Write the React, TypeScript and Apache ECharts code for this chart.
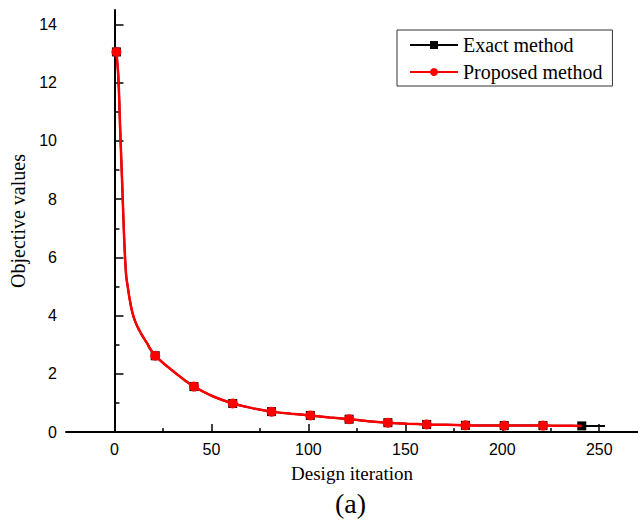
import React, { useEffect, useRef } from "react";
import * as echarts from "echarts";

const proposedIter = [1, 2, 3, 4, 5, 6, 7, 8, 9, 10, 11, 12, 13, 14, 15, 16, 17, 18, 19, 20, 21, 26, 31, 36, 41, 46, 51, 56, 61, 71, 81, 91, 101, 111, 121, 131, 141, 151, 161, 171, 181, 191, 201, 211, 221, 231, 241];
const proposedValues = [13.06, 12.2, 10.3, 8.5, 6.65, 5.4, 4.92, 4.5, 4.17, 3.93, 3.75, 3.6, 3.47, 3.35, 3.24, 3.13, 3.03, 2.9, 2.8, 2.71, 2.62, 2.32, 2.05, 1.79, 1.56, 1.38, 1.22, 1.09, 0.98, 0.82, 0.7, 0.63, 0.57, 0.5, 0.44, 0.37, 0.32, 0.285, 0.26, 0.245, 0.23, 0.225, 0.22, 0.22, 0.22, 0.215, 0.21];
const exactIter = [1, 2, 3, 4, 5, 6, 7, 8, 9, 10, 11, 12, 13, 14, 15, 16, 17, 18, 19, 20, 21, 26, 31, 36, 41, 46, 51, 56, 61, 71, 81, 91, 101, 111, 121, 131, 141, 151, 161, 171, 181, 191, 201, 211, 221, 231, 241, 253];
const exactValues = [13.06, 12.2, 10.3, 8.5, 6.65, 5.4, 4.92, 4.5, 4.17, 3.93, 3.75, 3.6, 3.47, 3.35, 3.24, 3.13, 3.03, 2.9, 2.8, 2.71, 2.62, 2.32, 2.05, 1.79, 1.56, 1.38, 1.22, 1.09, 0.98, 0.82, 0.7, 0.63, 0.57, 0.5, 0.44, 0.37, 0.32, 0.285, 0.26, 0.245, 0.23, 0.225, 0.22, 0.22, 0.22, 0.215, 0.21, 0.21];
const proposedMarkerIter = [1, 21, 41, 61, 81, 101, 121, 141, 161, 181, 201, 221];
const exactMarkerIter = [1, 21, 41, 61, 81, 101, 121, 141, 161, 181, 201, 221, 241];

const xMajorTicks = [0, 50, 100, 150, 200, 250];
const xMinorTicks = [25, 75, 125, 175, 225];
const yMajorTicks = [0, 2, 4, 6, 8, 10, 12, 14];
const yMinorTicks = [1, 3, 5, 7, 9, 11, 13];

const SERIF = "'Liberation Serif', 'Times New Roman', serif";
const SANS = "'Liberation Sans', Arial, sans-serif";

function buildData(iters: number[], vals: number[], markers: number[]) {
  return iters.map((x, i) =>
    markers.includes(x) ? { value: [x, vals[i]] } : { value: [x, vals[i]], symbol: "none" }
  );
}

export default function App() {
  const ref = useRef<HTMLDivElement>(null);
  useEffect(() => {
    if (!ref.current) return;
    const chart = echarts.init(ref.current, null, { renderer: "svg" });
    const axisCommon = {
      type: "value" as const,
      splitLine: { show: false },
    };
    chart.setOption({
      animation: false,
      grid: { left: 66, right: 0, top: 10, bottom: 93 },
      legend: {
        orient: "vertical",
        left: 397,
        top: 30,
        padding: [5, 10, 4, 12],
        itemWidth: 48,
        itemHeight: 10,
        itemGap: 7,
        borderColor: "#333",
        borderWidth: 1,
        textStyle: { fontFamily: SERIF, fontSize: 20, color: "#000" },
        data: ["Exact method", "Proposed method"],
      },
      xAxis: [
        {
          ...axisCommon,
          min: -25,
          max: 270,
          name: "Design iteration",
          nameLocation: "middle",
          nameGap: 32,
          nameTextStyle: { fontFamily: SERIF, fontSize: 19, color: "#000" },
          axisLine: { show: true, lineStyle: { color: "#000", width: 2 } },
          axisTick: { show: true, inside: true, length: 8, customValues: xMajorTicks, lineStyle: { color: "#000", width: 1.5 } },
          axisLabel: { customValues: xMajorTicks, fontFamily: SANS, fontSize: 16, color: "#000", margin: 9 },
        },
        {
          ...axisCommon,
          min: -25,
          max: 270,
          position: "bottom",
          axisLine: { show: false },
          axisTick: { show: true, inside: true, length: 4, customValues: xMinorTicks, lineStyle: { color: "#000", width: 1.5 } },
          axisLabel: { show: false },
        },
      ],
      yAxis: [
        {
          ...axisCommon,
          min: 0,
          max: 14.5,
          name: "Objective values",
          nameLocation: "middle",
          nameGap: 35,
          nameTextStyle: { fontFamily: SERIF, fontSize: 20, color: "#000" },
          axisLine: { show: true, lineStyle: { color: "#000", width: 2 } },
          axisTick: { show: true, inside: true, length: 9, customValues: yMajorTicks, lineStyle: { color: "#000", width: 1.5 } },
          axisLabel: { customValues: yMajorTicks, fontFamily: SANS, fontSize: 16, color: "#000", margin: 9 },
        },
        {
          ...axisCommon,
          min: 0,
          max: 14.5,
          position: "left",
          axisLine: { show: false },
          axisTick: { show: true, inside: true, length: 5, customValues: yMinorTicks, lineStyle: { color: "#000", width: 1.5 } },
          axisLabel: { show: false },
        },
      ],
      graphic: [
        {
          type: "text",
          left: 335,
          top: 489,
          style: { text: "(a)", fontFamily: SERIF, fontSize: 28, fill: "#000" },
        },
      ],
      series: [
        {
          name: "Exact method",
          type: "line",
          smooth: 0.3,
          symbol: "rect",
          symbolSize: 9,
          showSymbol: true,
          showAllSymbol: true,
          color: "#000",
          lineStyle: { color: "#000", width: 2 },
          itemStyle: { color: "#000" },
          data: buildData(exactIter, exactValues, exactMarkerIter),
          z: 2,
        },
        {
          name: "Proposed method",
          type: "line",
          smooth: 0.3,
          symbol: "circle",
          symbolSize: 10,
          showSymbol: true,
          showAllSymbol: true,
          color: "#ff0000",
          lineStyle: { color: "#ff0000", width: 2.5 },
          itemStyle: { color: "#ff0000" },
          data: buildData(proposedIter, proposedValues, proposedMarkerIter),
          z: 3,
        },
      ],
    });
    return () => chart.dispose();
  }, []);
  return (
    <div
      ref={ref}
      style={{ position: "fixed", left: 0, top: 0, width: 638, height: 525, background: "#fff" }}
    />
  );
}
